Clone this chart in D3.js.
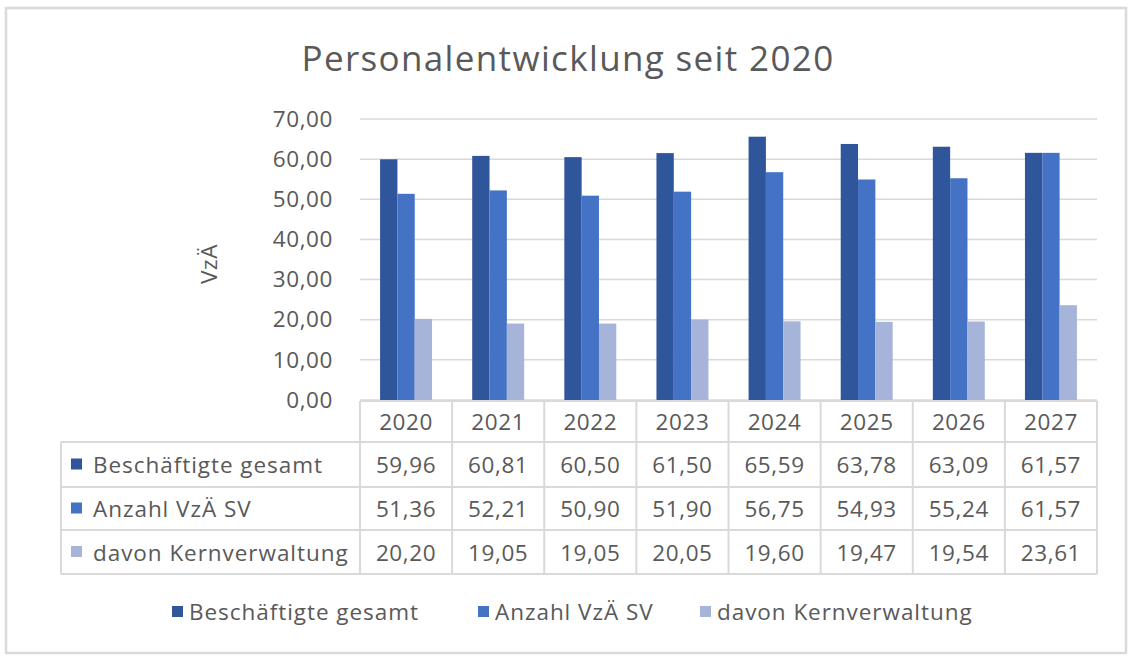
<!DOCTYPE html>
<html><head><meta charset="utf-8">
<script src="https://cdn.jsdelivr.net/npm/d3@7"></script>
<style>
html,body{margin:0;padding:0;background:#fff;}
svg{display:block;font-family:"Open Sans",sans-serif;}
</style></head>
<body><svg id="c" width="1130" height="657"></svg>
<script>
const categories = ["2020","2021","2022","2023","2024","2025","2026","2027"];
const seriesNames = ["Beschäftigte gesamt","Anzahl VzÄ SV","davon Kernverwaltung"];
const beschaeftigte = [59.96,60.81,60.50,61.50,65.59,63.78,63.09,61.57];
const anzahlVzA = [51.36,52.21,50.90,51.90,56.75,54.93,55.24,61.57];
const kernverwaltung = [20.20,19.05,19.05,20.05,19.60,19.47,19.54,23.61];
const yTicks = [0,10,20,30,40,50,60,70];
const colors = ["#2F559A","#4472C4","#A6B4DA"];
const series = [beschaeftigte, anzahlVzA, kernverwaltung];

(function(){
const svg = d3.select("#c");
const textColor = "#595959";
const gridColor = "#D9D9D9";
const fs = 22.5, ls = 0.6, lsName = 0.95;
const fmt = v => d3.format(".2f")(v).replace(".", ",");

svg.append("rect").attr("x",6).attr("y",8).attr("width",1120).attr("height",645)
  .attr("fill","#fff").attr("stroke","#D9D9D9").attr("stroke-width",2.5);

svg.append("text").attr("x",568).attr("y",71).attr("text-anchor","middle")
  .attr("font-size",35).attr("letter-spacing",1.35).attr("fill",textColor).text("Personalentwicklung seit 2020");

const pLeft = 360, pRight = 1097, pTop = 119, pBottom = 400;
const x = d3.scaleBand().domain(categories).range([pLeft,pRight]);
const y = d3.scaleLinear().domain([0,70]).range([pBottom, pTop]);

svg.append("g").selectAll("line").data(yTicks).join("line")
  .attr("x1",pLeft).attr("x2",pRight).attr("y1",d=>y(d)).attr("y2",d=>y(d))
  .attr("stroke",gridColor).attr("stroke-width",1.5);

const yAxis = d3.axisLeft(y).tickValues(yTicks).tickFormat(fmt).tickSize(0).tickPadding(27);
const ga = svg.append("g").attr("transform",`translate(${pLeft},0)`).call(yAxis);
ga.select(".domain").remove();
ga.selectAll("text").attr("font-size",fs).attr("letter-spacing",ls).attr("fill",textColor).attr("font-family","Open Sans");

svg.append("text").attr("transform","translate(217,264) rotate(-90)").attr("text-anchor","middle")
  .attr("font-size",fs).attr("letter-spacing",ls).attr("fill",textColor).text("VzÄ");

const bw = x.bandwidth()*0.188;
series.forEach((s,i)=>{
  svg.append("g").selectAll("rect").data(s).join("rect")
    .attr("x",(d,j)=>x(categories[j]) + x.bandwidth()/2 - 1.5*bw + i*bw)
    .attr("width",bw)
    .attr("y",d=>y(d)).attr("height",d=>y(0)-y(d))
    .attr("fill",colors[i]);
});

const tblLeft = 61;
const rowTops = [401, 442, 487, 530, 574];
const tg = svg.append("g");
const lineColor = "#D9D9D9";
tg.append("line").attr("x1",pLeft).attr("x2",pRight).attr("y1",rowTops[0]).attr("y2",rowTops[0]).attr("stroke",lineColor).attr("stroke-width",2);
for (let r=1;r<rowTops.length;r++){
  tg.append("line").attr("x1",tblLeft).attr("x2",pRight).attr("y1",rowTops[r]).attr("y2",rowTops[r]).attr("stroke",lineColor).attr("stroke-width",2);
}
const vx = categories.map(c=>x(c)).concat([pRight]);
vx.forEach(v=>{
  tg.append("line").attr("x1",v).attr("x2",v).attr("y1",rowTops[0]).attr("y2",rowTops[4]).attr("stroke",lineColor).attr("stroke-width",2);
});
tg.append("line").attr("x1",tblLeft).attr("x2",tblLeft).attr("y1",rowTops[1]).attr("y2",rowTops[4]).attr("stroke",lineColor).attr("stroke-width",2);

tg.selectAll("text.yr").data(categories).join("text").attr("class","yr")
  .attr("x",c=>x(c)+x.bandwidth()/2).attr("y",(rowTops[0]+rowTops[1])/2+8.5)
  .attr("text-anchor","middle").attr("font-size",fs).attr("letter-spacing",ls).attr("fill",textColor).text(c=>c);
series.forEach((s,i)=>{
  const cy = (rowTops[i+1]+rowTops[i+2])/2;
  tg.append("rect").attr("x",71).attr("y",cy-6).attr("width",11).attr("height",11).attr("fill",colors[i]);
  tg.append("text").attr("x",93).attr("y",cy+8.5).attr("font-size",fs).attr("letter-spacing",lsName).attr("fill",textColor).text(seriesNames[i]);
  tg.selectAll(null).data(s).join("text")
    .attr("x",(d,j)=>x(categories[j])+x.bandwidth()/2).attr("y",cy+8.5)
    .attr("text-anchor","middle").attr("font-size",fs).attr("letter-spacing",ls).attr("fill",textColor).text(fmt);
});

const legX = [172, 478, 700];
const lg = svg.append("g");
seriesNames.forEach((n,i)=>{
  lg.append("rect").attr("x",legX[i]).attr("y",606).attr("width",11).attr("height",11).attr("fill",colors[i]);
  lg.append("text").attr("x",legX[i]+17).attr("y",620).attr("font-size",fs).attr("letter-spacing",lsName).attr("fill",textColor).text(n);
});
})();
</script></body></html>
